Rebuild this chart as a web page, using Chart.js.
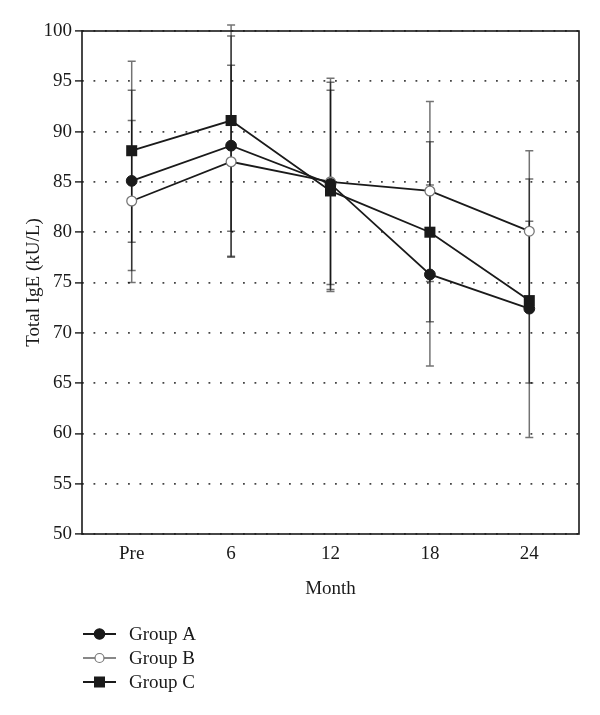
<!DOCTYPE html>
<html>
<head>
<meta charset="utf-8">
<script src="https://cdn.jsdelivr.net/npm/chart.js@4.4.1/dist/chart.umd.min.js"></script>
<style>
  html, body { margin: 0; padding: 0; background: #fff; }
  #wrap { width: 600px; height: 715px; position: relative; }
</style>
</head>
<body>
<div id="wrap"><canvas id="chart"></canvas></div>
<script>
(() => {
    const months = ["Pre", "6", "12", "18", "24"];
    const yTicks = [50, 55, 60, 65, 70, 75, 80, 85, 90, 95, 100];

    const groupA = [85.1, 88.6, 84.8, 75.8, 72.4];
    const groupB = [83.1, 87.0, 85.0, 84.1, 80.1];
    const groupC = [88.1, 91.1, 84.1, 80.0, 73.2];

    // upper / lower ends of the error bars
    const groupAHigh = [94.1, 99.5, 94.9, 84.7, 85.3];
    const groupALow = [76.2, 77.6, 74.8, 66.7, 59.6];
    const groupBHigh = [91.1, 96.6, 95.3, 93.0, 88.1];
    const groupBLow = [75.0, 77.5, 74.1, 75.1, 72.1];
    const groupCHigh = [97.0, 100.6, 94.1, 89.0, 81.1];
    const groupCLow = [79.0, 80.1, 74.3, 71.1, 65.0];

    const FONT = "'Liberation Serif', 'DejaVu Serif', serif";
    const INK = "#1a1a1a";

    const errorBars = {
        id: "errorBars",
        beforeDatasetsDraw(chart) {
            const { ctx } = chart;
            const y = chart.scales.y;
            ctx.save();
            ctx.strokeStyle = "rgba(0,0,0,0.55)";
            ctx.lineWidth = 1.5;
            chart.data.datasets.forEach((ds, i) => {
                const meta = chart.getDatasetMeta(i);
                meta.data.forEach((pt, j) => {
                    const top = y.getPixelForValue(ds.errHigh[j]);
                    const bot = y.getPixelForValue(ds.errLow[j]);
                    ctx.beginPath();
                    ctx.moveTo(pt.x, top);
                    ctx.lineTo(pt.x, bot);
                    ctx.moveTo(pt.x - 4, top);
                    ctx.lineTo(pt.x + 4, top);
                    ctx.moveTo(pt.x - 4, bot);
                    ctx.lineTo(pt.x + 4, bot);
                    ctx.stroke();
                });
            });
            ctx.restore();
        },
    };

    const frame = {
        id: "frame",
        afterDraw(chart) {
            const { ctx, chartArea: a } = chart;
            ctx.save();
            ctx.strokeStyle = INK;
            ctx.lineWidth = 1.6;
            ctx.strokeRect(a.left, a.top, a.right - a.left, a.bottom - a.top);
            ctx.restore();
        },
    };

    // legend drawn as line + marker + text, stacked under the plot
    const sideLegend = {
        id: "sideLegend",
        afterDraw(chart) {
            const { ctx } = chart;
            ctx.save();
            ctx.font = "19px " + FONT;
            ctx.textBaseline = "middle";
            chart.data.datasets.forEach((ds, i) => {
                const cy = 634 + i * 24;
                ctx.strokeStyle = ds.legendLine;
                ctx.lineWidth = 1.8;
                ctx.beginPath();
                ctx.moveTo(83, cy);
                ctx.lineTo(116, cy);
                ctx.stroke();
                ctx.fillStyle = ds.pointBackgroundColor;
                ctx.strokeStyle = ds.pointBorderColor;
                ctx.lineWidth = 1.2;
                if (ds.pointStyle === "rect") {
                    ctx.fillRect(94, cy - 5.5, 11, 11);
                } else {
                    ctx.beginPath();
                    ctx.arc(99.5, cy, ds.pointBackgroundColor === "#fff" ? 4.5 : 5.2, 0, Math.PI * 2);
                    ctx.fill();
                    ctx.stroke();
                }
                ctx.fillStyle = INK;
                ctx.fillText(ds.label, 129, cy + 1);
            });
            ctx.restore();
        },
    };

    new Chart(document.getElementById("chart"), {
        type: "line",
        data: {
            labels: months,
            datasets: [
                {
                    label: "Group A", data: groupA, errHigh: groupAHigh, errLow: groupALow,
                    borderColor: INK, borderWidth: 1.8, pointStyle: "circle", pointRadius: 5.4,
                    pointBackgroundColor: INK, pointBorderColor: INK, pointBorderWidth: 1,
                    legendLine: INK, clip: false,
                },
                {
                    label: "Group B", data: groupB, errHigh: groupBHigh, errLow: groupBLow,
                    borderColor: INK, borderWidth: 1.8, pointStyle: "circle", pointRadius: 4.9,
                    pointBackgroundColor: "#fff", pointBorderColor: "#777", pointBorderWidth: 1.3,
                    legendLine: "#888", clip: false,
                },
                {
                    label: "Group C", data: groupC, errHigh: groupCHigh, errLow: groupCLow,
                    borderColor: INK, borderWidth: 1.8, pointStyle: "rect", pointRadius: 7.8,
                    pointBackgroundColor: INK, pointBorderColor: INK, pointBorderWidth: 0,
                    legendLine: INK, clip: false,
                },
            ],
        },
        options: {
            responsive: true,
            maintainAspectRatio: false,
            animation: false,
            layout: { padding: { left: 0, right: 21, top: 31, bottom: 111 } },
            plugins: {
                legend: { display: false },
                tooltip: { enabled: false },
            },
            scales: {
                x: {
                    offset: true,
                    grid: { display: false, drawTicks: false },
                    border: { display: false },
                    ticks: { color: INK, font: { family: FONT, size: 19 }, padding: 9 },
                    title: { display: true, text: "Month", color: INK, font: { family: FONT, size: 19 }, padding: { top: 0, bottom: 4 } },
                    afterFit(scale) { scale.height = 70; },
                },
                y: {
                    min: 50,
                    max: 100,
                    afterBuildTicks(scale) { scale.ticks = yTicks.map((v) => ({ value: v })); },
                    grid: {
                        color: "#444",
                        lineWidth: 1.8,
                        tickLength: 7,
                        tickColor: INK,
                        tickWidth: 1.4,
                        tickBorderDash: [],
                    },
                    border: { display: false, dash: [1.8, 9.7] },
                    ticks: { color: INK, font: { family: FONT, size: 19 }, padding: 3 },
                    title: { display: true, text: "Total IgE (kU/L)", color: INK, font: { family: FONT, size: 19 }, padding: { top: 23, bottom: 0 } },
                    afterFit(scale) { scale.width = 82; },
                },
            },
        },
        plugins: [errorBars, frame, sideLegend],
    });
})();
</script>
</body>
</html>
